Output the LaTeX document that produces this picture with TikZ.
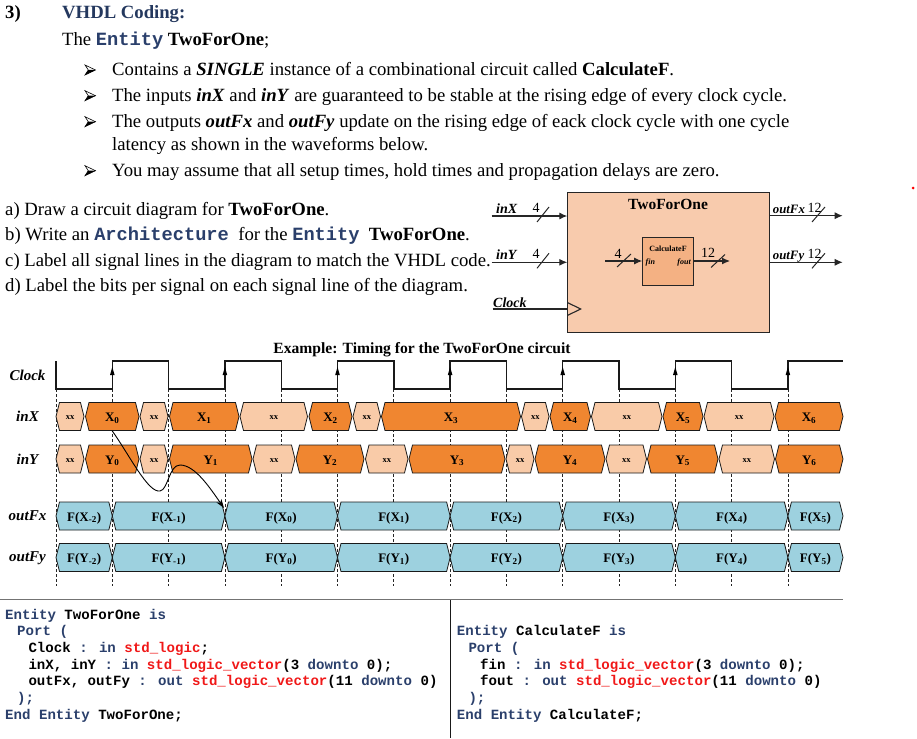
\documentclass[tikz,border=0pt]{standalone}
\usepackage{fontspec}
\setmainfont{Liberation Serif}
\newfontfamily\codefont{Liberation Mono}
\usetikzlibrary{arrows.meta}
\definecolor{navy}{HTML}{24385E}
\definecolor{kw}{HTML}{2A3F6B}
\definecolor{codered}{HTML}{F01818}
\definecolor{orng}{HTML}{F08630}
\definecolor{peach}{HTML}{F9CBA8}
\definecolor{boxpeach}{HTML}{F8CBAD}
\definecolor{calcfill}{HTML}{F4B183}
\definecolor{aqua}{HTML}{9DD1DF}
\newcommand\kw[1]{\textcolor{kw}{#1}}
\newcommand\ty[1]{\textcolor{codered}{#1}}
\newcommand\cfont{\codefont\bfseries\fontsize{14.1}{17}\selectfont}
\newcommand\icode[1]{{\codefont\bfseries\color{kw}#1}}
\tikzset{
  txt/.style={inner sep=0pt, anchor=base west, font=\fontsize{18.7}{22}\selectfont},
  codeln/.style={inner sep=0pt, anchor=base west, font=\cfont},
  wire/.style={line width=1.1pt, draw=black!85},
  arr/.style={wire, -{Latex[length=8pt,width=7pt]}},
  slash/.style={line width=1pt, draw=black!85},
  sig/.style={inner sep=0pt, anchor=base west, font=\fontsize{14}{16}\selectfont\bfseries\itshape},
  sigo/.style={inner sep=0pt, anchor=base west, font=\fontsize{12.8}{15}\selectfont\bfseries\itshape},
  num/.style={inner sep=0pt, anchor=base west, font=\fontsize{14}{16}\selectfont},
  rowlbl/.style={inner sep=0pt, anchor=base, font=\fontsize{15}{17}\selectfont\bfseries\itshape},
  seglbl/.style={inner sep=0pt, anchor=base, font=\fontsize{13}{15}\selectfont\bfseries},
  xxlbl/.style={inner sep=0pt, anchor=base, font=\fontsize{8.5}{10}\selectfont\bfseries},
  segline/.style={draw=black!90, line width=0.8pt, line join=miter},
  clk/.style={line width=1.4pt, draw=black!90},
  grid/.style={dashed, dash pattern=on 3pt off 2pt, line width=0.7pt, draw=black!85},
}
\newcommand\seg[6]{%
  \draw[segline, fill=#5] (#2,#4) -- ({#2+3.5},{#4-14}) -- ({#3-3.5},{#4-14}) -- (#3,#4) -- ({#3-3.5},{#4+14}) -- ({#2+3.5},{#4+14}) -- cycle;
  \node[seglbl] (#1) at ({(#2+#3)/2},{#4+5}) {#6};}
\newcommand\segx[4]{%
  \draw[segline, fill=peach] (#2,#4) -- ({#2+3.5},{#4-14}) -- ({#3-3.5},{#4-14}) -- (#3,#4) -- ({#3-3.5},{#4+14}) -- ({#2+3.5},{#4+14}) -- cycle;
  \node[xxlbl] (#1) at ({(#2+#3)/2},{#4+3}) {xx};}
\newcommand\bul[1]{%
  \draw[line width=0.6pt, line join=miter] (85,{#1-5}) -- (95.5,#1) -- (85,{#1+5}) -- (88.3,#1) -- cycle;
  \fill (88.3,#1) -- (95.5,#1) -- (85,{#1+5}) -- cycle;}
\newcommand\sub[1]{\textsubscript{#1}}
\begin{document}
\begin{tikzpicture}[x=1pt,y=-1pt]
\useasboundingbox (0,0) rectangle (917,738);
% ---------- header text ----------
\node[txt, font=\fontsize{18.7}{22}\selectfont\bfseries] (num3) at (5,19) {3)};
\node[txt, font=\fontsize{18.7}{22}\selectfont\bfseries, text=navy] (head) at (62,19) {VHDL Coding:};
\node[txt] (ent) at (62,46) {The \icode{Entity} \textbf{TwoForOne};};
\bul{70}
\bul{95.7}
\bul{121.7}
\bul{170.7}
\node[txt] (l1) at (112,76) {Contains a \textbf{\textit{SINGLE}} instance of a combinational circuit called \textbf{CalculateF}.};
\node[txt] (l2) at (112,101.7) {The inputs \textbf{\textit{inX}} and \textbf{\textit{inY}} are guaranteed to be stable at the rising edge of every clock cycle.};
\node[txt] (l3) at (112,127.7) {The outputs \textbf{\textit{outFx}} and \textbf{\textit{outFy}} update on the rising edge of eack clock cycle with one cycle};
\node[txt] (l4) at (112,150.7) {latency as shown in the waveforms below.};
\node[txt] (l5) at (112,176.7) {You may assume that all setup times, hold times and propagation delays are zero.};
\node[txt] (qa) at (5,215) {a) Draw a circuit diagram for \textbf{TwoForOne}.};
\node[txt] (qb) at (5,240.7) {b) Write an \icode{Architecture}\ \ for the \icode{Entity}\ \ \textbf{TwoForOne}.};
\node[txt] (qc) at (5,266) {c) Label all signal lines in the diagram to match the VHDL code.};
\node[txt] (qd) at (5,291.7) {d) Label the bits per signal on each signal line of the diagram.};
% ---------- block diagram ----------
\node[draw=black!85, line width=1.1pt, fill=boxpeach, inner sep=0pt, minimum width=201.4pt, minimum height=140.6pt, anchor=north west] (tfo) at (567.3,191.7) {};
\node[inner sep=0pt, anchor=base, font=\fontsize{15.5}{17}\selectfont\bfseries] (tfot) at (668,209) {TwoForOne};
\node[draw=black!85, line width=1.1pt, fill=calcfill, inner sep=0pt, minimum width=50.6pt, minimum height=48.4pt] (calc) at (668,261.5) {};
\node[inner sep=0pt, anchor=base, font=\fontsize{8}{9}\selectfont\bfseries] (calct) at (668,251) {CalculateF};
\node[inner sep=0pt, anchor=base west, font=\fontsize{8}{9}\selectfont\bfseries\itshape] (fin) at (645.5,264) {fin};
\node[inner sep=0pt, anchor=base east, font=\fontsize{8}{9}\selectfont\bfseries\itshape] (fout) at (691,264) {fout};
\coordinate (inXs) at (491.7,216);
\coordinate (inYs) at (491.7,262.3);
\coordinate (clks) at (492.7,309);
\coordinate (oFx) at (842.7,215.7);
\coordinate (oFy) at (842.7,262.3);
\coordinate (cin) at (605,261);
\coordinate (cout) at (730,261);
\draw[arr] (inXs) -- (inXs -| tfo.west);
\draw[arr] (inYs) -- (inYs -| tfo.west);
\draw[wire] (clks) -- (clks -| tfo.west);
\draw[wire] ([yshift=6.5pt]clks -| tfo.west) -- ([xshift=13.4pt]clks -| tfo.west) -- ([yshift=-6.5pt]clks -| tfo.west);
\draw[arr] (oFx -| tfo.east) -- (oFx);
\draw[arr] (oFy -| tfo.east) -- (oFy);
\draw[arr] (cin) -- (cin -| calc.west);
\draw[arr] (cout -| calc.east) -- (cout);
\draw[slash] (537,222) -- (549,207);
\draw[slash] (537,268.3) -- (549,253.3);
\draw[slash] (812,222) -- (825,207);
\draw[slash] (812,268.3) -- (825,253.3);
\draw[slash] (617,267) -- (631,254);
\draw[slash] (711,267.5) -- (725,254.5);
\node[sig] (linX) at (496,213) {inX};
\node[sig] (linY) at (496,259.3) {inY};
\node[sig] (lclk) at (493,307) {Clock};
\node[sigo] (loFx) at (772.7,213) {outFx};
\node[sigo] (loFy) at (772.7,259.3) {outFy};
\node[num] (n1) at (532.5,212.5) {4};
\node[num] (n2) at (532.5,258.8) {4};
\node[num] (n3) at (807.5,212.5) {12};
\node[num] (n4) at (807.5,258.8) {12};
\node[num] (n5) at (614.5,258) {4};
\node[num] (n6) at (701,257.5) {12};
\fill[red] (913,188) circle (1.5pt);
% ---------- timing diagram ----------
\node[inner sep=0pt, anchor=base, font=\fontsize{15.6}{18}\selectfont\bfseries] (ttl) at (422,353) {Example: Timing for the TwoForOne circuit};
\node[rowlbl] (rclk) at (27.5,380) {Clock};
\node[rowlbl] (rix) at (27.5,421.7) {inX};
\node[rowlbl] (riy) at (27.5,464) {inY};
\node[rowlbl] (rfx) at (27.5,520) {outFx};
\node[rowlbl] (rfy) at (27.5,561.7) {outFy};
\foreach \x in {56,112.3,168.6,224.9,281.2,337.5,393.8,450.1,506.4,562.7,619,675.3,731.6,787.9}
  \draw[grid] (\x,389) -- (\x,586);
\draw[clk] (56,361)--(56,389)--(112.3,389)--(112.3,361)--(168.6,361)--(168.6,389)--(224.9,389)--(224.9,361)--(281.2,361)--(281.2,389)--(337.5,389)--(337.5,361)--(393.8,361)--(393.8,389)--(450.1,389)--(450.1,361)--(506.4,361)--(506.4,389)--(562.7,389)--(562.7,361)--(619,361)--(619,389)--(675.3,389)--(675.3,361)--(731.6,361)--(731.6,389)--(787.9,389)--(787.9,361)--(843,361);
\foreach \x in {112.3,224.9,337.5,450.1,562.7,675.3,787.9}
  \fill (\x,367) -- (\x+2.3,375) -- (\x-2.3,375) -- cycle;
% inX
\segx{ix0}{56}{84}{416.5}
\seg{ix1}{85.5}{139}{416.5}{orng}{X\sub{0}}
\segx{ix2}{140}{168}{416.5}
\seg{ix3}{169.5}{239}{416.5}{orng}{X\sub{1}}
\segx{ix4}{240}{307.5}{416.5}
\seg{ix5}{309}{352}{416.5}{orng}{X\sub{2}}
\segx{ix6}{353}{380.5}{416.5}
\seg{ix7}{381.5}{520.5}{416.5}{orng}{X\sub{3}}
\segx{ix8}{521.5}{549}{416.5}
\seg{ix9}{550}{590.5}{416.5}{orng}{X\sub{4}}
\segx{ix10}{591.5}{662}{416.5}
\seg{ix11}{663}{703}{416.5}{orng}{X\sub{5}}
\segx{ix12}{704}{774}{416.5}
\seg{ix13}{775}{843}{416.5}{orng}{X\sub{6}}
% inY
\segx{iy0}{56}{84}{459}
\seg{iy1}{85.5}{139}{459}{orng}{Y\sub{0}}
\segx{iy2}{140}{168}{459}
\seg{iy3}{169.5}{252}{459}{orng}{Y\sub{1}}
\segx{iy4}{253}{295}{459}
\seg{iy5}{296}{364}{459}{orng}{Y\sub{2}}
\segx{iy6}{365.5}{408}{459}
\seg{iy7}{409}{505}{459}{orng}{Y\sub{3}}
\segx{iy8}{506}{534}{459}
\seg{iy9}{535}{605}{459}{orng}{Y\sub{4}}
\segx{iy10}{606}{646.5}{459}
\seg{iy11}{647.5}{718}{459}{orng}{Y\sub{5}}
\segx{iy12}{719}{774.5}{459}
\seg{iy13}{775.5}{843}{459}{orng}{Y\sub{6}}
% outFx
\seg{fx0}{56}{112.3}{516}{aqua}{F(X\sub{-2})}
\seg{fx1}{112.3}{224.9}{516}{aqua}{F(X\sub{-1})}
\seg{fx2}{224.9}{337.5}{516}{aqua}{F(X\sub{0})}
\seg{fx3}{337.5}{450.1}{516}{aqua}{F(X\sub{1})}
\seg{fx4}{450.1}{562.7}{516}{aqua}{F(X\sub{2})}
\seg{fx5}{562.7}{675.3}{516}{aqua}{F(X\sub{3})}
\seg{fx6}{675.3}{787.9}{516}{aqua}{F(X\sub{4})}
\seg{fx7}{787.9}{843}{516}{aqua}{F(X\sub{5})}
% outFy
\seg{fy0}{56}{112.3}{557.5}{aqua}{F(Y\sub{-2})}
\seg{fy1}{112.3}{224.9}{557.5}{aqua}{F(Y\sub{-1})}
\seg{fy2}{224.9}{337.5}{557.5}{aqua}{F(Y\sub{0})}
\seg{fy3}{337.5}{450.1}{557.5}{aqua}{F(Y\sub{1})}
\seg{fy4}{450.1}{562.7}{557.5}{aqua}{F(Y\sub{2})}
\seg{fy5}{562.7}{675.3}{557.5}{aqua}{F(Y\sub{3})}
\seg{fy6}{675.3}{787.9}{557.5}{aqua}{F(Y\sub{4})}
\seg{fy7}{787.9}{843}{557.5}{aqua}{F(Y\sub{5})}
% curved arrow
\coordinate (arrS) at (112.3,431);
\coordinate (arrE) at (224,508);
\draw[line width=0.9pt, -{Stealth[length=9pt,width=6pt]}] (arrS) .. controls (130,456) and (148,493) .. (160,491) .. controls (168,490) and (169,465) .. (180,465) .. controls (195,465) and (210,488) .. (arrE);
% ---------- code boxes ----------
\draw[line width=1.3pt, draw=black!55] (0,599.7) -- (843,599.7);
\draw[line width=1.3pt, draw=black!90] (450.5,600) -- (450.5,738);
\node[codeln] (c1) at (5,619) {\kw{Entity} TwoForOne \kw{is}};
\node[codeln] (c2) at (17,635.7) {\kw{Port (}};
\node[codeln] (c3) at (28.3,652.3) {Clock \kw{:} \kw{in} \ty{std\_logic};};
\node[codeln] (c4) at (28.3,669) {inX, inY \kw{:} \kw{in} \ty{std\_logic\_vector}(3 \kw{downto} 0);};
\node[codeln] (c5) at (28.3,685.7) {outFx, outFy \kw{:} \kw{out} \ty{std\_logic\_vector}(11 \kw{downto} 0)};
\node[codeln] (c6) at (17,702.3) {\kw{);}};
\node[codeln] (c7) at (5,719) {\kw{End} \kw{Entity} TwoForOne;};
\node[codeln] (d1) at (456.7,635.7) {\kw{Entity} CalculateF \kw{is}};
\node[codeln] (d2) at (468.3,652.3) {\kw{Port (}};
\node[codeln] (d3) at (480,669) {fin \kw{:} \kw{in} \ty{std\_logic\_vector}(3 \kw{downto} 0);};
\node[codeln] (d4) at (480,685.7) {fout \kw{:} \kw{out} \ty{std\_logic\_vector}(11 \kw{downto} 0)};
\node[codeln] (d5) at (468.3,702.3) {\kw{);}};
\node[codeln] (d6) at (456.7,719) {\kw{End} \kw{Entity} CalculateF;};
\end{tikzpicture}
\end{document}
